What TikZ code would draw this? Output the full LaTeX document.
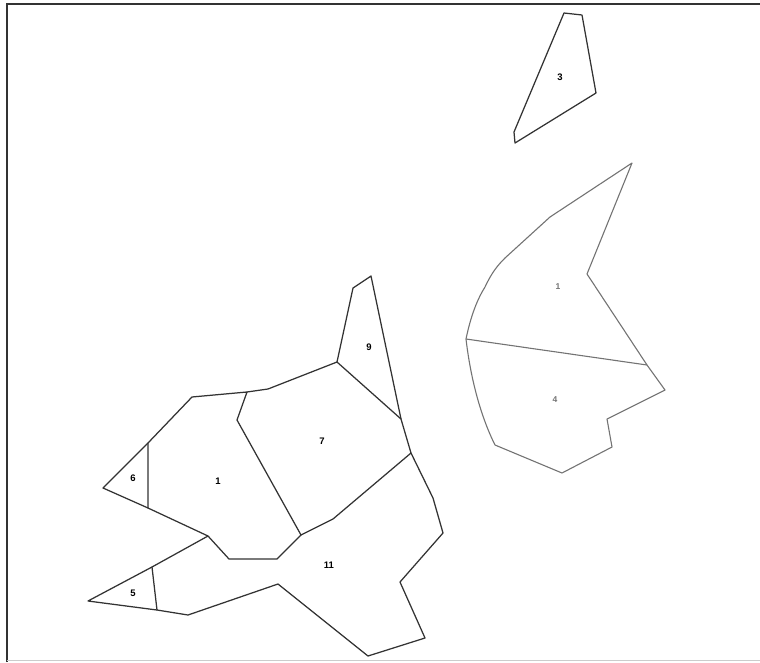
\documentclass[tikz,border=0pt]{standalone}
\usepackage{fontspec}
\setmainfont{Liberation Sans}
\begin{document}
\begin{tikzpicture}[x=1pt,y=-1pt,
  region/.style={draw=black!80,line width=1.25pt,line join=round},
  greyregion/.style={draw=black!55,line width=1.1pt,line join=round},
  lab/.style={font=\fontsize{9.5}{10}\selectfont\bfseries,inner sep=0pt},
  greylab/.style={font=\fontsize{8.5}{9}\selectfont\bfseries,text=black!55,inner sep=0pt}]
\useasboundingbox (0,0) rectangle (760,662);
% frame
\draw[black!80,line width=2pt] (7,662) -- (7,4) -- (762,4);
\draw[black!20,line width=1.5pt] (7,660.5) -- (762,660.5);
% shape 3
\draw[region] (564,13) -- (582,15) -- (596,93) -- (515,143) -- (514,132) -- cycle;
\node[lab] (l3) at (560,77) {3};
% right shape
\draw[greyregion] (466,339) .. controls (472,310) and (480,295) .. (485,287)
  .. controls (492,272) and (498,265) .. (505,258)
  -- (550,217) -- (632,163) -- (587,274) -- (647,365) -- (665,390)
  -- (607,419) -- (612,447) -- (562,473) -- (495,445)
  .. controls (485,425) and (472,390) .. (466,339) -- cycle;
\draw[greyregion] (466,339) -- (647,365);
\node[greylab] (r1) at (558,287) {1};
\node[greylab] (r4) at (555,400) {4};
% left cluster
\draw[region] (192,397) -- (247,392) -- (237,420) -- (301,535) -- (277,559) -- (229,559) -- (208,536) -- (148,508) -- (148,443) -- cycle;
\draw[region] (148,443) -- (103,488) -- (148,508);
\draw[region] (247,392) -- (268,389) -- (337,362) -- (401,419) -- (411,453) -- (333,519) -- (301,535);
\draw[region] (337,362) -- (353,288) -- (371,276) -- (401,419);
\draw[region] (411,453) -- (433,498) -- (443,533) -- (400,582) -- (425,638) -- (368,656) -- (278,584) -- (188,615) -- (157,610) -- (152,567) -- (208,536);
\draw[region] (152,567) -- (88,601) -- (157,610);
\node[lab] (l9) at (369,347) {9};
\node[lab] (l7) at (322,441) {7};
\node[lab] (l6) at (133,478) {6};
\node[lab] (l1) at (218,481) {1};
\node[lab] (l11) at (329,565) {11};
\node[lab] (l5) at (133,593) {5};
\end{tikzpicture}
\end{document}
